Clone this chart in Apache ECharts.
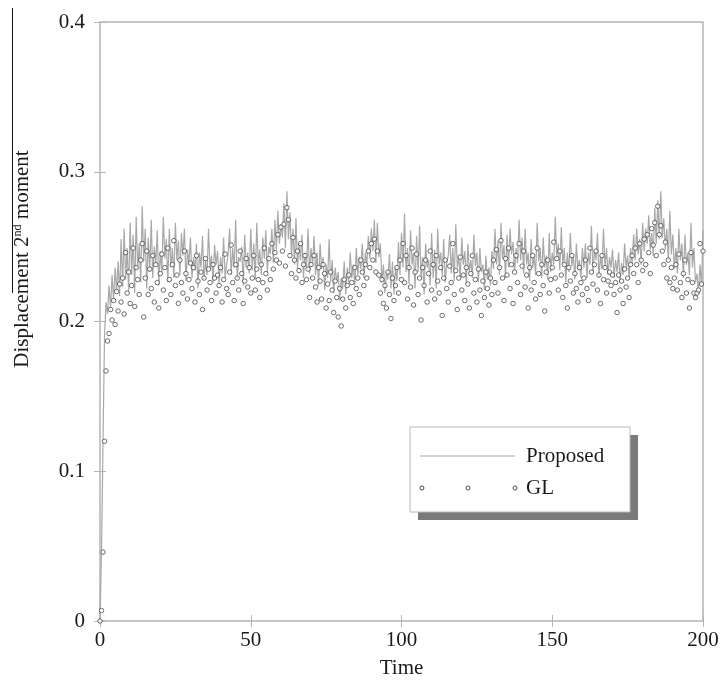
<!DOCTYPE html>
<html><head><meta charset="utf-8">
<script src="https://cdn.jsdelivr.net/npm/echarts@6/dist/echarts.min.js"></script>
<style>html,body{margin:0;padding:0;background:#fff}#c{width:724px;height:690px}</style>
</head><body><div id="c"></div>
<script>
const timeStep = 0.5;
const xTicks = [0, 50, 100, 150, 200];
const yTicks = [0, 0.1, 0.2, 0.3, 0.4];
const seriesNames = ['Proposed', 'GL'];

const proposed = [
0, 0.046, 0.12, 0.19, 0.213, 0.205, 0.224, 0.209, 0.231, 0.214, 0.236, 0.219, 0.24, 0.217, 0.255, 0.223, 0.262, 0.228, 0.249, 0.22, 0.266,
0.231, 0.258, 0.219, 0.27, 0.235, 0.252, 0.226, 0.277, 0.24, 0.262, 0.222, 0.256, 0.233, 0.268, 0.229, 0.25, 0.238, 0.261, 0.224, 0.247,
0.233, 0.27, 0.242, 0.255, 0.226, 0.262, 0.236, 0.249, 0.229, 0.266, 0.241, 0.254, 0.231, 0.259, 0.244, 0.262, 0.227, 0.248, 0.238, 0.256,
0.229, 0.243, 0.234, 0.252, 0.222, 0.246, 0.236, 0.257, 0.228, 0.241, 0.231, 0.262, 0.235, 0.244, 0.226, 0.251, 0.238, 0.247, 0.225, 0.243,
0.232, 0.256, 0.229, 0.238, 0.245, 0.262, 0.231, 0.249, 0.236, 0.268, 0.228, 0.243, 0.24, 0.25, 0.224, 0.258, 0.236, 0.246, 0.232, 0.262,
0.234, 0.252, 0.228, 0.266, 0.238, 0.248, 0.231, 0.256, 0.242, 0.261, 0.233, 0.25, 0.245, 0.262, 0.239, 0.268, 0.248, 0.274, 0.252, 0.265,
0.256, 0.279, 0.249, 0.287, 0.255, 0.273, 0.243, 0.262, 0.238, 0.269, 0.235, 0.252, 0.241, 0.258, 0.229, 0.246, 0.236, 0.262, 0.232, 0.249,
0.238, 0.257, 0.231, 0.246, 0.224, 0.252, 0.235, 0.243, 0.221, 0.238, 0.229, 0.255, 0.226, 0.241, 0.219, 0.236, 0.227, 0.233, 0.214, 0.229,
0.222, 0.24, 0.218, 0.236, 0.226, 0.246, 0.229, 0.238, 0.224, 0.249, 0.231, 0.243, 0.235, 0.252, 0.229, 0.246, 0.238, 0.257, 0.242, 0.262,
0.247, 0.268, 0.239, 0.266, 0.243, 0.252, 0.226, 0.238, 0.219, 0.233, 0.228, 0.245, 0.222, 0.24, 0.218, 0.236, 0.227, 0.253, 0.231, 0.259,
0.236, 0.272, 0.233, 0.249, 0.225, 0.261, 0.238, 0.246, 0.222, 0.257, 0.233, 0.264, 0.229, 0.243, 0.218, 0.252, 0.236, 0.241, 0.224, 0.259,
0.229, 0.248, 0.222, 0.262, 0.238, 0.246, 0.231, 0.255, 0.226, 0.239, 0.244, 0.258, 0.232, 0.249, 0.227, 0.265, 0.236, 0.243, 0.229, 0.256,
0.238, 0.247, 0.225, 0.252, 0.233, 0.241, 0.229, 0.258, 0.237, 0.246, 0.226, 0.249, 0.233, 0.238, 0.221, 0.244, 0.228, 0.236, 0.224, 0.247,
0.235, 0.262, 0.238, 0.254, 0.231, 0.266, 0.242, 0.251, 0.229, 0.258, 0.236, 0.262, 0.245, 0.253, 0.233, 0.249, 0.239, 0.268, 0.241, 0.256,
0.232, 0.262, 0.238, 0.246, 0.227, 0.255, 0.236, 0.243, 0.231, 0.266, 0.24, 0.249, 0.229, 0.256, 0.236, 0.244, 0.228, 0.259, 0.233, 0.246,
0.238, 0.27, 0.242, 0.252, 0.234, 0.263, 0.238, 0.249, 0.226, 0.246, 0.233, 0.259, 0.237, 0.244, 0.228, 0.252, 0.235, 0.241, 0.229, 0.249,
0.236, 0.252, 0.229, 0.246, 0.238, 0.264, 0.232, 0.248, 0.241, 0.259, 0.229, 0.244, 0.235, 0.262, 0.236, 0.249, 0.231, 0.243, 0.236, 0.248,
0.229, 0.241, 0.233, 0.246, 0.226, 0.239, 0.231, 0.252, 0.236, 0.244, 0.229, 0.249, 0.238, 0.258, 0.241, 0.262, 0.245, 0.255, 0.238, 0.266,
0.247, 0.262, 0.252, 0.271, 0.248, 0.259, 0.244, 0.276, 0.252, 0.281, 0.255, 0.287, 0.256, 0.269, 0.248, 0.262, 0.241, 0.274, 0.245, 0.258,
0.235, 0.249, 0.232, 0.262, 0.241, 0.252, 0.229, 0.258, 0.238, 0.246, 0.231, 0.266, 0.236, 0.249, 0.226, 0.232, 0.219, 0.238, 0.223, 0.261
];

const gl = [
0, 0.007, 0.046, 0.12, 0.167, 0.187, 0.192, 0.208, 0.201, 0.214, 0.198, 0.22, 0.207, 0.225, 0.213, 0.229, 0.205, 0.246, 0.219, 0.233, 0.212,
0.224, 0.249, 0.21, 0.236, 0.228, 0.218, 0.241, 0.252, 0.203, 0.229, 0.247, 0.218, 0.235, 0.222, 0.244, 0.213, 0.238, 0.226, 0.209, 0.232,
0.245, 0.221, 0.236, 0.214, 0.249, 0.228, 0.218, 0.238, 0.254, 0.224, 0.231, 0.212, 0.241, 0.226, 0.219, 0.247, 0.232, 0.215, 0.228, 0.239,
0.222, 0.236, 0.213, 0.244, 0.227, 0.218, 0.233, 0.208, 0.229, 0.242, 0.221, 0.235, 0.226, 0.214, 0.238, 0.229, 0.219, 0.231, 0.224, 0.236,
0.213, 0.228, 0.245, 0.222, 0.218, 0.233, 0.251, 0.226, 0.214, 0.238, 0.229, 0.221, 0.247, 0.232, 0.212, 0.227, 0.242, 0.223, 0.236, 0.219,
0.229, 0.244, 0.221, 0.235, 0.228, 0.216, 0.238, 0.226, 0.249, 0.232, 0.221, 0.242, 0.228, 0.252, 0.235, 0.246, 0.241, 0.258, 0.239, 0.263,
0.247, 0.265, 0.237, 0.276, 0.268, 0.244, 0.232, 0.256, 0.241, 0.229, 0.247, 0.234, 0.252, 0.226, 0.238, 0.244, 0.228, 0.235, 0.216, 0.238,
0.229, 0.244, 0.223, 0.213, 0.236, 0.227, 0.215, 0.238, 0.232, 0.209, 0.225, 0.214, 0.233, 0.221, 0.206, 0.227, 0.216, 0.203, 0.222, 0.197,
0.215, 0.228, 0.209, 0.224, 0.231, 0.216, 0.226, 0.212, 0.236, 0.222, 0.229, 0.218, 0.241, 0.233, 0.224, 0.238, 0.229, 0.247, 0.236, 0.252,
0.241, 0.255, 0.233, 0.247, 0.231, 0.219, 0.228, 0.212, 0.224, 0.209, 0.233, 0.218, 0.202, 0.229, 0.214, 0.224, 0.236, 0.219, 0.241, 0.228,
0.252, 0.226, 0.244, 0.215, 0.236, 0.223, 0.249, 0.211, 0.233, 0.245, 0.218, 0.229, 0.201, 0.236, 0.224, 0.241, 0.213, 0.232, 0.247, 0.221,
0.238, 0.215, 0.244, 0.227, 0.219, 0.236, 0.204, 0.229, 0.241, 0.222, 0.213, 0.237, 0.226, 0.252, 0.218, 0.234, 0.208, 0.229, 0.243, 0.221,
0.231, 0.214, 0.236, 0.225, 0.209, 0.232, 0.244, 0.219, 0.228, 0.213, 0.235, 0.221, 0.204, 0.227, 0.216, 0.233, 0.222, 0.211, 0.229, 0.218,
0.241, 0.226, 0.248, 0.219, 0.236, 0.254, 0.229, 0.214, 0.242, 0.231, 0.249, 0.222, 0.238, 0.212, 0.233, 0.244, 0.226, 0.252, 0.218, 0.237,
0.247, 0.223, 0.231, 0.209, 0.236, 0.221, 0.244, 0.226, 0.215, 0.249, 0.232, 0.218, 0.238, 0.224, 0.207, 0.233, 0.241, 0.219, 0.228, 0.236,
0.253, 0.229, 0.242, 0.221, 0.247, 0.231, 0.216, 0.238, 0.224, 0.209, 0.236, 0.227, 0.244, 0.219, 0.232, 0.222, 0.213, 0.236, 0.226, 0.218,
0.229, 0.241, 0.222, 0.214, 0.249, 0.233, 0.225, 0.238, 0.247, 0.221, 0.231, 0.212, 0.244, 0.228, 0.236, 0.219, 0.227, 0.233, 0.224, 0.231,
0.218, 0.226, 0.206, 0.231, 0.221, 0.227, 0.212, 0.235, 0.223, 0.229, 0.216, 0.238, 0.244, 0.232, 0.249, 0.238, 0.226, 0.252, 0.241, 0.234,
0.255, 0.238, 0.258, 0.246, 0.232, 0.262, 0.251, 0.266, 0.244, 0.277, 0.258, 0.264, 0.247, 0.238, 0.253, 0.229, 0.241, 0.226, 0.236, 0.222,
0.229, 0.238, 0.221, 0.245, 0.226, 0.216, 0.232, 0.241, 0.219, 0.228, 0.209, 0.246, 0.226, 0.219, 0.216, 0.219, 0.221, 0.252, 0.225, 0.247
];

const propData = proposed.map((v, i) => [i * timeStep, v]);
const glData = gl.map((v, i) => [i * timeStep, v]);

const FONT = '"Liberation Serif", "DejaVu Serif", serif';
const chart = echarts.init(document.getElementById('c'), null, {renderer: 'canvas'});

const L = 100, R = 703, T = 22, B = 621;
const axisGray = '#b4b4b4';

const legendX = 410, legendY = 427, legendW = 220, legendH = 85;

chart.setOption({
  animation: false,
  backgroundColor: '#fff',
  grid: {left: L, top: T, width: R - L, height: B - T, show: true, borderColor: axisGray, borderWidth: 1.5, backgroundColor: 'transparent'},
  xAxis: [{
    type: 'value', min: 0, max: 200, interval: 50,
    axisLine: {show: false},
    axisTick: {show: true, inside: true, length: 6, lineStyle: {color: axisGray, width: 1}},
    axisLabel: {fontFamily: FONT, fontSize: 21, color: '#1a1a1a', margin: 9},
    splitLine: {show: false},
    name: 'Time', nameLocation: 'middle', nameGap: 37,
    nameTextStyle: {fontFamily: FONT, fontSize: 21, color: '#1a1a1a'}
  }, {
    type: 'value', min: 0, max: 200, interval: 50, position: 'top',
    axisLine: {show: false}, axisLabel: {show: false},
    axisTick: {show: true, inside: true, length: 6, lineStyle: {color: axisGray, width: 1}},
    splitLine: {show: false}
  }],
  yAxis: [{
    type: 'value', min: 0, max: 0.4, interval: 0.1,
    axisLine: {show: false},
    axisTick: {show: true, inside: true, length: 6, lineStyle: {color: axisGray, width: 1}},
    axisLabel: {fontFamily: FONT, fontSize: 21, color: '#1a1a1a', margin: 15,
      formatter: v => (v === 0 ? '0' : v.toFixed(1))},
    splitLine: {show: false}
  }, {
    type: 'value', min: 0, max: 0.4, interval: 0.1, position: 'right',
    axisLine: {show: false}, axisLabel: {show: false},
    axisTick: {show: true, inside: true, length: 6, lineStyle: {color: axisGray, width: 1}},
    splitLine: {show: false}
  }],
  series: [{
    name: seriesNames[0], type: 'line', data: propData, showSymbol: false, symbol: 'none',
    lineStyle: {color: '#a8a8a8', width: 1.2}, z: 2
  }, {
    name: seriesNames[1], type: 'scatter', data: glData, symbol: 'circle', symbolSize: 4.5,
    itemStyle: {color: '#fff', borderColor: '#4a4a4a', borderWidth: 1}, z: 3
  }],
  graphic: [
    {type: 'text', x: 22, y: 259, rotation: Math.PI / 2,
      style: {text: 'Displacement 2{sup|nd} moment', fontFamily: FONT, fontSize: 21, fill: '#1a1a1a',
        align: 'center', verticalAlign: 'middle',
        rich: {sup: {fontFamily: FONT, fontSize: 12, verticalAlign: 'top', padding: [0, 0, 8, 0], fill: '#1a1a1a'}}}},
    {type: 'line', shape: {x1: 12.5, y1: 8, x2: 12.5, y2: 293}, style: {stroke: '#111', lineWidth: 1}},
    {type: 'rect', shape: {x: legendX + 8, y: legendY + 8, width: legendW, height: legendH}, style: {fill: '#7a7a7a'}, z: 10},
    {type: 'rect', shape: {x: legendX, y: legendY, width: legendW, height: legendH}, style: {fill: '#fff', stroke: '#b8b8b8', lineWidth: 1}, z: 11},
    {type: 'line', shape: {x1: legendX + 10, y1: 456, x2: legendX + 105, y2: 456}, style: {stroke: '#a8a8a8', lineWidth: 1.2}, z: 12},
    {type: 'text', x: legendX + 116, y: 456, style: {text: seriesNames[0], fontFamily: FONT, fontSize: 21, fill: '#1a1a1a', verticalAlign: 'middle'}, z: 12},
    {type: 'circle', shape: {cx: legendX + 12, cy: 488, r: 2}, style: {fill: '#fff', stroke: '#4a4a4a', lineWidth: 1}, z: 12},
    {type: 'circle', shape: {cx: legendX + 58, cy: 488, r: 2}, style: {fill: '#fff', stroke: '#4a4a4a', lineWidth: 1}, z: 12},
    {type: 'circle', shape: {cx: legendX + 105, cy: 488, r: 2}, style: {fill: '#fff', stroke: '#4a4a4a', lineWidth: 1}, z: 12},
    {type: 'text', x: legendX + 116, y: 488, style: {text: seriesNames[1], fontFamily: FONT, fontSize: 21, fill: '#1a1a1a', verticalAlign: 'middle'}, z: 12}
  ]
});
</script>
</body></html>
